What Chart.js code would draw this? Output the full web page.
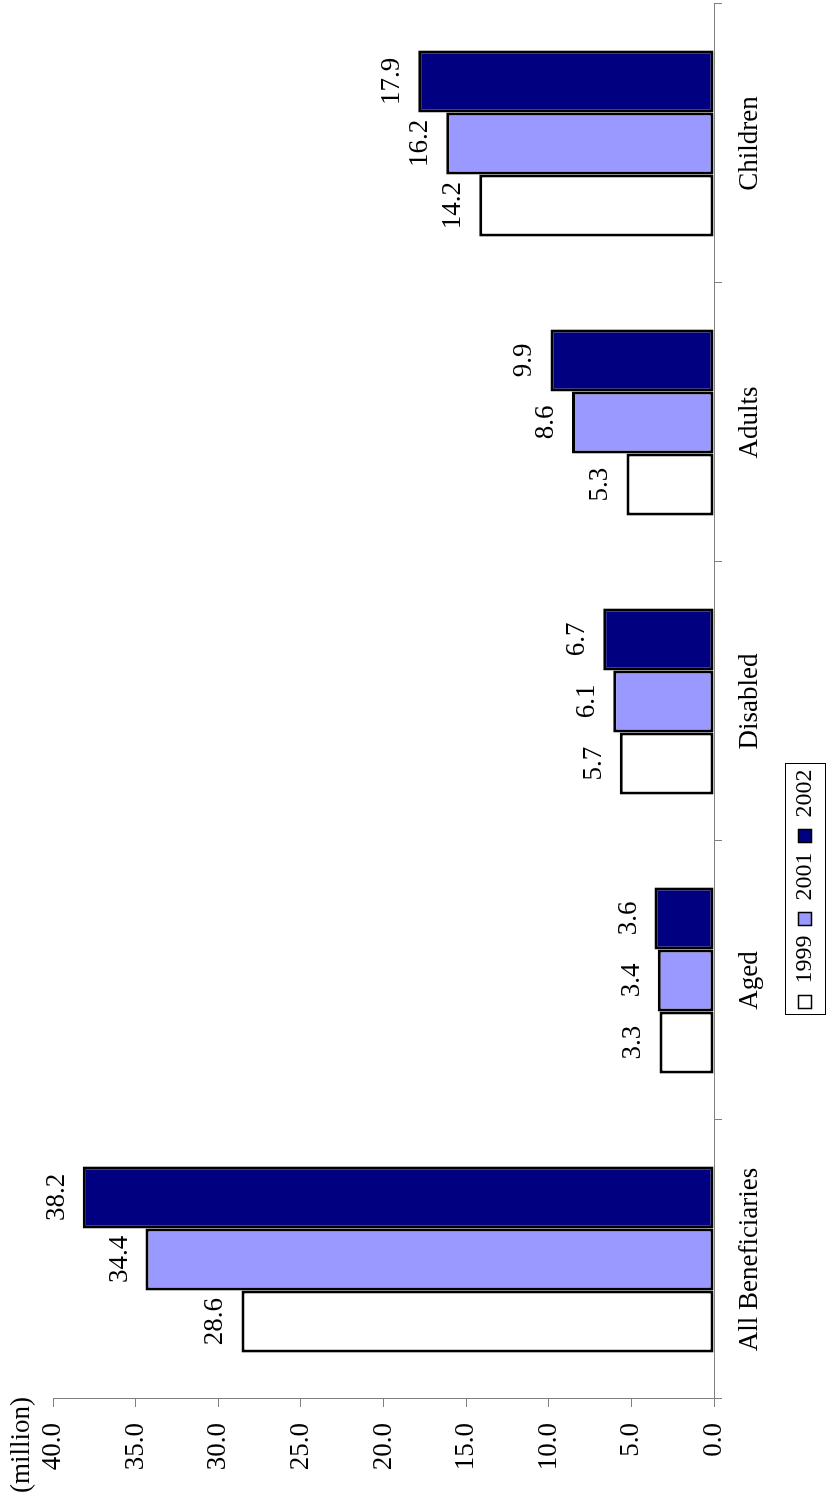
<!DOCTYPE html>
<html>
<head>
<meta charset="utf-8">
<script src="https://cdn.jsdelivr.net/npm/chart.js@4.4.0/dist/chart.umd.min.js"></script>
<style>
    html, body {
        margin: 0;
        padding: 0;
        background: #ffffff;
        width: 838px;
        height: 1500px;
        overflow: hidden;
    }
    /* the chart is drawn landscape and turned a quarter to the left */
    #wrap {
        position: absolute;
        left: 0;
        top: 0;
        width: 1500px;
        height: 838px;
        transform-origin: 0 0;
        transform: translateY(1500px) rotate(-90deg);
    }
</style>
</head>
<body>
<div id="wrap"><canvas id="chart-beneficiaries" width="1500" height="838"></canvas></div>
<script>
    const categories = ['All Beneficiaries', 'Aged', 'Disabled', 'Adults', 'Children'];
    const years = ['1999', '2001', '2002'];
    const values1999 = [28.6, 3.3, 5.7, 5.3, 14.2];
    const values2001 = [34.4, 3.4, 6.1, 8.6, 16.2];
    const values2002 = [38.2, 3.6, 6.7, 9.9, 17.9];
    const valueTicks = [0, 5, 10, 15, 20, 25, 30, 35, 40];
    const unitLabel = '(million)';

    const fontFamily = "'Liberation Serif', 'Times New Roman', serif";
    Chart.defaults.font.family = fontFamily;
    Chart.defaults.font.size = 27;
    Chart.defaults.color = '#000000';

    // where the middle of the legend sits (landscape x, before the turn)
    const legendCentre = 611;

    // value labels over each bar
    const barLabels = {
        id: 'barLabels',
        afterDatasetsDraw: function (chart) {
            const ctx = chart.ctx;
            ctx.save();
            ctx.font = '27px ' + fontFamily;
            ctx.fillStyle = '#000000';
            ctx.textAlign = 'center';
            ctx.textBaseline = 'alphabetic';
            chart.data.datasets.forEach(function (ds, i) {
                chart.getDatasetMeta(i).data.forEach(function (bar, j) {
                    ctx.fillText(ds.data[j].toFixed(1), bar.x, bar.y - 19);
                });
            });
            ctx.restore();
        }
    };

    // unit text above the value axis, and the frame round the legend
    const extras = {
        id: 'extras',
        afterLayout: function (chart) {
            const shift = legendCentre - (chart.legend.left + chart.legend.right) / 2;
            chart.legend.left += shift;
            chart.legend.right += shift;
        },
        afterDraw: function (chart) {
            const ctx = chart.ctx;
            ctx.save();
            ctx.font = '27px ' + fontFamily;
            ctx.fillStyle = '#000000';
            ctx.textAlign = 'left';
            ctx.textBaseline = 'alphabetic';
            ctx.fillText(unitLabel, 7, 29);

            const boxes = chart.legend.legendHitBoxes;
            if (boxes && boxes.length) {
                let l = Infinity, r = -Infinity, t = Infinity, b = -Infinity;
                boxes.forEach(function (h) {
                    l = Math.min(l, h.left);
                    r = Math.max(r, h.left + h.width);
                    t = Math.min(t, h.top);
                    b = Math.max(b, h.top + h.height);
                });
                ctx.strokeStyle = '#000000';
                ctx.lineWidth = 1;
                ctx.strokeRect(Math.round(l - 7) + 0.5, Math.round(t - 8) + 0.5, Math.round(r - l + 12), Math.round(b - t + 16));
            }
            ctx.restore();
        }
    };

    const ctx = document.getElementById('chart-beneficiaries');

    const config = {
        type: 'bar',
        data: {
            labels: categories,
            datasets: [{
                label: years[0],
                data: values1999,
                backgroundColor: '#ffffff',
                borderColor: '#000000',
                borderWidth: 3,
                borderSkipped: false
            }, {
                label: years[1],
                data: values2001,
                backgroundColor: '#9999ff',
                borderColor: '#000000',
                borderWidth: 3,
                borderSkipped: false
            }, {
                label: years[2],
                data: values2002,
                backgroundColor: '#000080',
                borderColor: '#000000',
                borderWidth: 3,
                borderSkipped: false
            }]
        },
        options: {
            responsive: false,
            animation: false,
            devicePixelRatio: 1,
            categoryPercentage: 0.667,
            barPercentage: 1.0,
            layout: {
                padding: {top: 53, right: 4, bottom: 11, left: 0}
            },
            scales: {
                x: {
                    grid: {
                        drawOnChartArea: false,
                        tickLength: 8,
                        color: '#808080',
                        offset: true
                    },
                    border: {color: '#808080', width: 1},
                    ticks: {
                        padding: 12,
                        maxRotation: 0,
                        autoSkip: false
                    },
                    afterFit: function (scale) {
                        scale.height = 69;
                    }
                },
                y: {
                    min: 0,
                    max: 40,
                    afterBuildTicks: function (scale) {
                        scale.ticks = valueTicks.map(function (v) { return {value: v}; });
                    },
                    grid: {
                        drawOnChartArea: false,
                        tickLength: 8,
                        color: '#808080'
                    },
                    border: {color: '#808080', width: 1},
                    ticks: {
                        padding: 16,
                        callback: function (v) {
                            return Number(v).toFixed(1);
                        }
                    },
                    afterFit: function (scale) {
                        scale.width = 101;
                    }
                }
            },
            plugins: {
                legend: {
                    position: 'bottom',
                    labels: {
                        boxWidth: 13,
                        boxHeight: 13,
                        padding: 10,
                        font: {size: 24},
                        generateLabels: function (chart) {
                            const items = Chart.defaults.plugins.legend.labels.generateLabels(chart);
                            items.forEach(function (item) {
                                item.lineWidth = 1.5;
                            });
                            return items;
                        }
                    }
                },
                tooltip: {enabled: false},
                title: {display: false}
            }
        },
        plugins: [barLabels, extras]
    };

    const myChart = new Chart(ctx, config);
</script>
</body>
</html>
